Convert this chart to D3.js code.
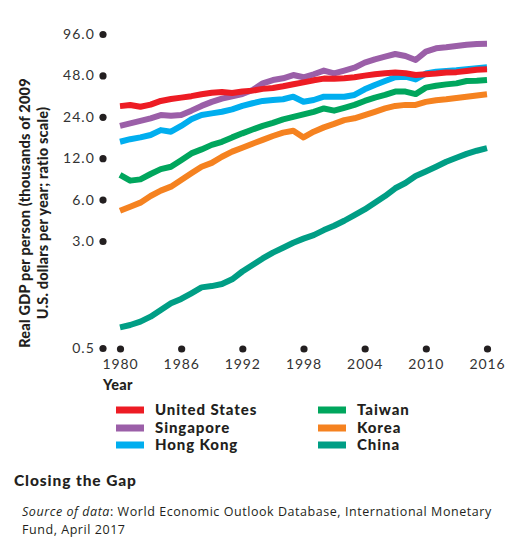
<!DOCTYPE html>
<html>
<head>
<meta charset="utf-8">
<script src="https://cdn.jsdelivr.net/npm/d3@7/dist/d3.min.js"></script>
<style>
  html, body { margin: 0; padding: 0; background: #fff; }
  svg { display: block; }
</style>
</head>
<body>
<svg id="chart" width="510" height="538"></svg>
<script>
const years = d3.range(1980, 2017);
const unitedStates = [28.7, 29.2, 28.4, 29.4, 31.3, 32.3, 33.1, 33.9, 35.0, 35.9, 36.3, 35.7, 36.6, 37.2, 38.3, 38.9, 40.0, 41.4, 42.7, 44.2, 45.5, 45.4, 45.8, 46.5, 47.8, 48.9, 49.8, 50.3, 49.8, 48.3, 49.0, 49.5, 50.3, 50.7, 51.6, 52.7, 53.2];
const singapore = [20.6, 21.5, 22.4, 23.4, 24.7, 24.4, 24.7, 26.6, 28.8, 30.8, 32.5, 33.8, 35.1, 37.6, 42.0, 44.4, 45.7, 48.3, 46.5, 48.9, 52.0, 49.7, 52.0, 54.6, 59.4, 62.8, 65.7, 68.7, 66.4, 62.1, 71.4, 75.5, 76.8, 78.5, 80.3, 81.2, 81.5];
const hongKong = [15.8, 16.5, 17.0, 17.7, 19.2, 18.7, 20.6, 23.0, 24.7, 25.4, 26.1, 27.2, 28.8, 30.1, 31.3, 31.8, 32.2, 33.6, 30.9, 31.8, 33.6, 33.6, 33.6, 34.6, 38.0, 40.9, 43.7, 46.5, 47.0, 44.9, 49.5, 51.0, 51.6, 52.3, 53.3, 54.2, 55.0];
const taiwan = [9.06, 8.24, 8.42, 9.21, 10.0, 10.4, 11.6, 13.0, 13.9, 15.0, 15.8, 17.0, 18.2, 19.4, 20.6, 21.7, 23.0, 24.0, 25.0, 26.1, 27.6, 26.6, 27.9, 29.3, 31.3, 33.1, 34.6, 36.6, 36.6, 35.1, 39.1, 40.4, 41.3, 42.0, 43.7, 43.9, 44.4];
const korea = [4.98, 5.33, 5.70, 6.37, 6.97, 7.45, 8.33, 9.32, 10.4, 11.1, 12.3, 13.4, 14.3, 15.3, 16.3, 17.4, 18.4, 19.0, 17.0, 18.7, 20.1, 21.3, 22.7, 23.4, 24.7, 26.1, 27.6, 28.8, 29.3, 29.3, 30.8, 31.7, 32.2, 32.9, 33.6, 34.3, 35.0];
const china = [0.707, 0.735, 0.777, 0.845, 0.945, 1.056, 1.137, 1.25, 1.38, 1.41, 1.46, 1.58, 1.80, 2.01, 2.24, 2.47, 2.68, 2.91, 3.12, 3.31, 3.60, 3.87, 4.21, 4.63, 5.09, 5.70, 6.37, 7.25, 7.92, 8.91, 9.61, 10.4, 11.3, 12.1, 12.9, 13.6, 14.2];

const seriesNames = ["United States", "Singapore", "Hong Kong", "Taiwan", "Korea", "China"];
const seriesValues = [unitedStates, singapore, hongKong, taiwan, korea, china];
const seriesColors = ["#ED1C24", "#9B5FA8", "#00AEEF", "#00A65D", "#F58220", "#009E85"];

const yTickValues = [0.5, 3, 6, 12, 24, 48, 96];
const yTickLabels = ["0.5", "3.0", "6.0", "12.0", "24.0", "48.0", "96.0"];
const xTickValues = [1980, 1986, 1992, 1998, 2004, 2010, 2016];

const svg = d3.select("#chart");
const ink = "#231F20";

const x = d3.scaleLinear().domain([1980, 2016]).range([120, 487]);
const y = d3.scaleLog().domain([0.5, 96]).range([348, 34]);

// Y axis: dots + labels
const yAxis = svg.append("g").attr("transform", "translate(103,0)")
  .call(d3.axisLeft(y).tickValues(yTickValues).tickSize(0).tickPadding(8)
    .tickFormat((d, i) => yTickLabels[i]));
yAxis.select(".domain").remove();
yAxis.selectAll(".tick").append("circle").attr("r", 3.6).attr("fill", ink);
yAxis.selectAll(".tick text")
  .attr("fill", "#333")
  .style("font-family", "Lato, sans-serif")
  .style("font-size", "14px")
  .style("letter-spacing", "1.1px");

// X axis: dots + labels
const xAxis = svg.append("g").attr("transform", "translate(0,349)")
  .call(d3.axisBottom(x).tickValues(xTickValues).tickSize(0).tickPadding(10)
    .tickFormat(d3.format("d")));
xAxis.select(".domain").remove();
xAxis.selectAll(".tick").append("circle").attr("r", 3.6).attr("fill", ink);
xAxis.selectAll(".tick text")
  .attr("fill", "#333")
  .style("font-family", "Lato, sans-serif")
  .style("font-size", "14px")
  .style("letter-spacing", "0.9px");

svg.append("text").attr("x", 103).attr("y", 390)
  .attr("fill", ink)
  .style("font-family", "Lato, sans-serif").style("font-weight", "900")
  .style("font-size", "14.5px").style("letter-spacing", "0.3px")
  .text("Year");

// Y label
const yl = svg.append("text")
  .attr("transform", "translate(0,213) rotate(-90)")
  .attr("text-anchor", "middle")
  .attr("fill", ink)
  .style("font-family", "Lato, sans-serif").style("font-weight", "900")
  .style("font-size", "14.5px").style("letter-spacing", "0.2px");
yl.append("tspan").attr("x", 0).attr("y", 30).text("Real GDP per person (thousands of 2009");
yl.append("tspan").attr("x", 0).attr("y", 48).text("U.S. dollars per year; ratio scale)");

// Lines
const line = d3.line().x((d, i) => x(years[i])).y(d => y(d));
const order = [5, 4, 3, 2, 1, 0];
svg.append("g").selectAll("path").data(order).join("path")
  .attr("d", i => line(seriesValues[i]))
  .attr("fill", "none")
  .attr("stroke", i => seriesColors[i])
  .attr("stroke-width", 6)
  .attr("stroke-linejoin", "round");

// Legend
const legend = svg.append("g");
const legPos = [[116, 410], [116, 428], [116, 445], [318, 410], [318, 428], [318, 445]];
seriesNames.forEach((name, i) => {
  const [lx, ly] = legPos[i];
  legend.append("rect").attr("x", lx).attr("y", ly - 3.5).attr("width", 28).attr("height", 7)
    .attr("fill", seriesColors[i]);
  legend.append("text").attr("x", lx + 39).attr("y", ly + 5)
    .attr("fill", ink)
    .style("font-family", "Lato, sans-serif").style("font-weight", "900")
    .style("font-size", "15px").style("letter-spacing", "0.9px")
    .text(name);
});

// Title
svg.append("text").attr("x", 14).attr("y", 486)
  .attr("fill", ink)
  .style("font-family", "Lato, sans-serif").style("font-weight", "900")
  .style("font-size", "15.5px").style("letter-spacing", "0.9px")
  .text("Closing the Gap");

// Source
const src = svg.append("text").attr("x", 22).attr("y", 516)
  .attr("fill", ink)
  .style("font-family", "'Open Sans', sans-serif")
  .style("font-size", "12.5px").style("letter-spacing", "0.55px");
src.append("tspan").style("font-style", "italic").text("Source of data");
src.append("tspan").text(": World Economic Outlook Database, International Monetary");
svg.append("text").attr("x", 22).attr("y", 534)
  .attr("fill", ink)
  .style("font-family", "'Open Sans', sans-serif")
  .style("font-size", "12.5px").style("letter-spacing", "0.55px")
  .text("Fund, April 2017");
</script>
</body>
</html>
